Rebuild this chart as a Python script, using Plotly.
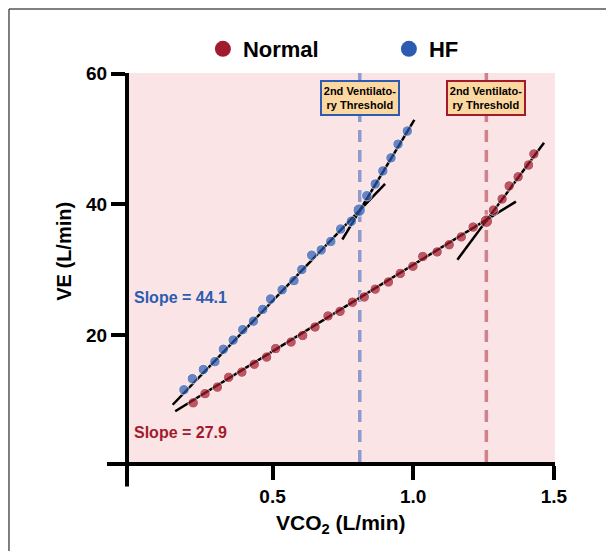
import plotly.graph_objects as go

# ---------------- data ----------------
hf_x = [0.185, 0.215, 0.254, 0.295, 0.325, 0.360, 0.394, 0.432, 0.465, 0.493, 0.534, 0.576, 0.604,
        0.639, 0.673, 0.707, 0.742, 0.780, 0.808, 0.835, 0.865, 0.892, 0.921, 0.946, 0.979]
hf_y = [11.6, 13.3, 14.7, 15.9, 17.8, 19.2, 20.8, 22.1, 23.9, 25.5, 26.9, 28.3, 30.0,
        32.2, 33.0, 34.3, 36.2, 37.4, 39.1, 41.3, 43.1, 45.1, 47.1, 49.2, 51.2]

normal_x = [0.218, 0.260, 0.304, 0.344, 0.391, 0.435, 0.479, 0.511, 0.566, 0.607, 0.651, 0.697, 0.740,
            0.784, 0.826, 0.865, 0.912, 0.954, 0.999, 1.034, 1.085, 1.128, 1.171, 1.213, 1.260, 1.285,
            1.316, 1.341, 1.373, 1.410, 1.429]
normal_y = [9.6, 11.0, 12.0, 13.5, 14.3, 15.5, 16.6, 17.9, 18.9, 19.9, 21.2, 22.9, 23.6,
            25.0, 25.8, 27.0, 28.1, 29.4, 30.5, 32.0, 32.7, 33.8, 35.0, 36.5, 37.4, 39.1,
            40.8, 42.8, 44.2, 46.0, 47.7]

# fitted regression segments (endpoints)
hf_fit_low_x = [0.145, 0.900]
hf_fit_low_y = [9.3, 43.1]
hf_fit_high_x = [0.748, 1.004]
hf_fit_high_y = [34.6, 52.9]
normal_fit_low_x = [0.154, 1.365]
normal_fit_low_y = [8.3, 40.4]
normal_fit_high_x = [1.157, 1.465]
normal_fit_high_y = [31.5, 49.4]

hf_threshold = 0.81
normal_threshold = 1.26
hf_slope_label = "Slope = 44.1"
normal_slope_label = "Slope = 27.9"

x_tickvals = [0.5, 1.0, 1.5]
x_ticktext = ["0.5", "1.0", "1.5"]
y_tickvals = [20, 40, 60]
y_ticktext = ["20", "40", "60"]

# ---------------- style ----------------
BLUE = "rgb(44,92,178)"
RED = "rgb(162,27,45)"
PINK = "rgb(251,228,229)"
FONT = "Liberation Sans"

fig = go.Figure()

for fx, fy in [(hf_fit_low_x, hf_fit_low_y), (hf_fit_high_x, hf_fit_high_y),
               (normal_fit_low_x, normal_fit_low_y), (normal_fit_high_x, normal_fit_high_y)]:
    fig.add_trace(go.Scatter(x=fx, y=fy, mode="lines", line=dict(color="black", width=2.5),
                             showlegend=False, hoverinfo="skip"))


def sizes(xs, thr):
    idx = min(range(len(xs)), key=lambda i: abs(xs[i] - thr))
    return [12.5 if i == idx else 10.5 for i in range(len(xs))]


fig.add_trace(go.Scatter(x=normal_x, y=normal_y, mode="markers",
                         marker=dict(color=RED, size=sizes(normal_x, normal_threshold)),
                         showlegend=False))
fig.add_trace(go.Scatter(x=hf_x, y=hf_y, mode="markers",
                         marker=dict(color=BLUE, size=sizes(hf_x, hf_threshold)),
                         showlegend=False))

# legend entries
fig.add_trace(go.Scatter(x=[None], y=[None], mode="markers", name="Normal",
                         marker=dict(color=RED, size=16)))
fig.add_trace(go.Scatter(x=[None], y=[None], mode="markers", name="HF",
                         marker=dict(color=BLUE, size=16)))

shapes = [
    dict(type="line", xref="x", yref="paper", x0=hf_threshold, x1=hf_threshold, y0=0, y1=1,
         line=dict(color="rgb(143,155,205)", width=3.5, dash="12px,8px"), layer="below"),
    dict(type="line", xref="x", yref="paper", x0=normal_threshold, x1=normal_threshold, y0=0, y1=1,
         line=dict(color="rgb(208,130,140)", width=3.5, dash="12px,8px"), layer="below"),
    # axis overshoot
    dict(type="line", xref="paper", yref="paper", x0=-0.0047, x1=-0.0047, y0=0, y1=-0.063,
         line=dict(color="black", width=4)),
    dict(type="line", xref="paper", yref="paper", x0=-0.0516, x1=0, y0=-0.0051, y1=-0.0051,
         line=dict(color="black", width=4)),
    # outer frame
    dict(type="line", xref="paper", yref="paper", x0=-0.2817, x1=1.13, y0=1.1643, y1=1.1643,
         line=dict(color="rgb(128,128,128)", width=2)),
    dict(type="line", xref="paper", yref="paper", x0=-0.2817, x1=-0.2817, y0=1.1643, y1=-0.24,
         line=dict(color="black", width=1)),
]

annotations = [
    dict(x=hf_threshold, y=56.3, xref="x", yref="y", text="2nd Ventilato-<br>ry Threshold",
         showarrow=False, font=dict(family=FONT, size=11, color="black", weight="bold"),
         bgcolor="rgb(252,215,160)", bordercolor=BLUE, borderwidth=2, borderpad=1,
         width=74, height=30),
    dict(x=normal_threshold, y=56.3, xref="x", yref="y", text="2nd Ventilato-<br>ry Threshold",
         showarrow=False, font=dict(family=FONT, size=11, color="black", weight="bold"),
         bgcolor="rgb(252,215,160)", bordercolor=RED, borderwidth=2, borderpad=1,
         width=74, height=30),
    dict(x=0.0, y=25.7, xref="x", yref="y", text=hf_slope_label, showarrow=False, xanchor="left",
         font=dict(family=FONT, size=16, color=BLUE, weight="bold")),
    dict(x=0.0, y=5.05, xref="x", yref="y", text=normal_slope_label, showarrow=False, xanchor="left",
         font=dict(family=FONT, size=16, color=RED, weight="bold")),
    dict(x=-0.1526, y=0.543, xref="paper", yref="paper", text="VE (L/min)", showarrow=False,
         xanchor="center", yanchor="middle",
         textangle=-90, font=dict(family=FONT, size=20, color="black", weight="bold")),
    dict(x=0.4977, y=-0.1605, xref="paper", yref="paper", text="VCO<sub>2</sub> (L/min)",
         xanchor="center", yanchor="middle",
         showarrow=False, font=dict(family=FONT, size=21, color="black", weight="bold")),
]

fig.update_layout(
    width=606, height=551,
    margin=dict(l=129, r=51, t=73, b=88.5),
    paper_bgcolor="white", plot_bgcolor=PINK,
    shapes=shapes, annotations=annotations,
    showlegend=True,
    legend=dict(orientation="h", x=0.1735, y=1.0616, xanchor="left", yanchor="middle",
                entrywidth=141, entrywidthmode="pixels",
                font=dict(family=FONT, size=22, color="black", weight="bold"),
                bgcolor="rgba(0,0,0,0)"),
    xaxis=dict(range=[-0.0103, 1.504], showgrid=False, zeroline=False,
               showline=True, linecolor="black", linewidth=4,
               ticks="outside", ticklen=14, tickwidth=4, tickcolor="black",
               tickvals=x_tickvals, ticktext=x_ticktext,
               tickfont=dict(family=FONT, size=19, color="black", weight="bold")),
    yaxis=dict(range=[0.535, 60.09], showgrid=False, zeroline=False,
               showline=True, linecolor="black", linewidth=4,
               ticks="outside", ticklen=14, tickwidth=4, tickcolor="black",
               tickvals=y_tickvals, ticktext=y_ticktext,
               tickfont=dict(family=FONT, size=19, color="black", weight="bold")),
)

fig.write_html("out.html")
